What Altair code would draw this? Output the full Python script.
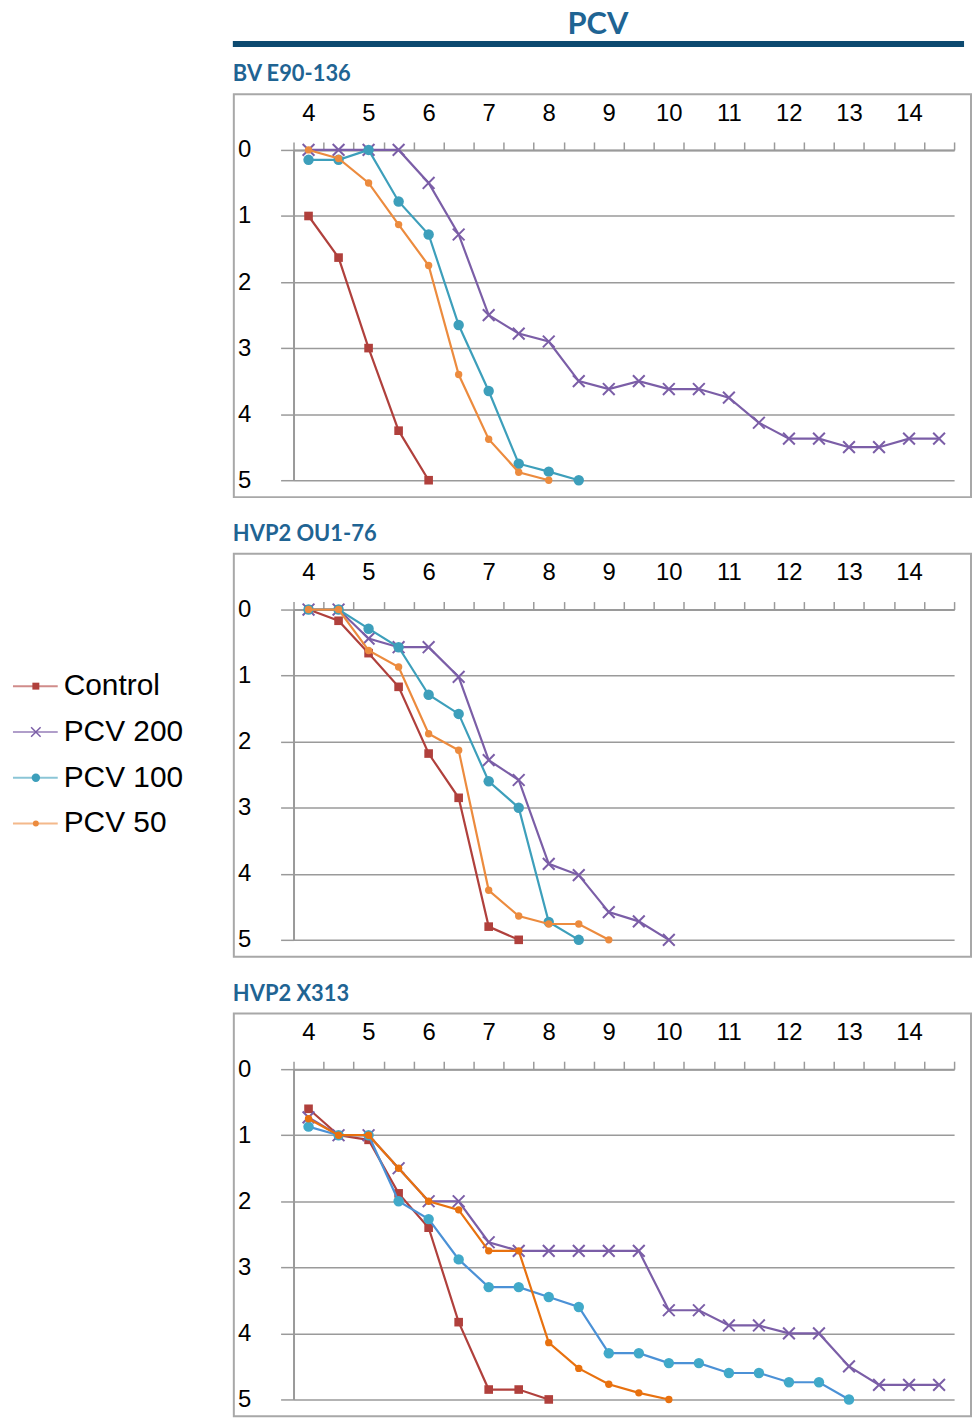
import altair as alt
import pandas as pd

# ---------------- data ----------------
DAYS = [4, 4.5, 5, 5.5, 6, 6.5, 7, 7.5, 8, 8.5, 9, 9.5, 10, 10.5, 11, 11.5,
        12, 12.5, 13, 13.5, 14, 14.5]
X_TICKS = [3.75, 4.25, 4.75, 5.25, 5.75, 6.25, 6.75, 7.25, 7.75, 8.25, 8.75,
           9.25, 9.75, 10.25, 10.75, 11.25, 11.75, 12.25, 12.75, 13.25, 13.75,
           14.25, 14.75]
Y_TICKS = [0, 1, 2, 3, 4, 5]
SERIES = ["Control", "PCV 200", "PCV 100", "PCV 50"]
PANEL_TITLES = ["BV E90-136", "HVP2 OU1-76", "HVP2 X313"]

control_1 = [1.0, 1.63, 3.0, 4.25, 5.0]
pcv200_1 = [0, 0, 0, 0, 0.5, 1.28, 2.5, 2.78, 2.9, 3.5, 3.62, 3.5, 3.62, 3.62,
            3.75, 4.13, 4.37, 4.37, 4.5, 4.5, 4.37, 4.37]
pcv100_1 = [0.15, 0.15, 0, 0.78, 1.28, 2.65, 3.65, 4.75, 4.87, 5.0]
pcv50_1 = [0, 0.13, 0.5, 1.13, 1.75, 3.4, 4.38, 4.88, 5.0]

control_2 = [0, 0.17, 0.66, 1.17, 2.18, 2.85, 4.8, 5.0]
pcv200_2 = [0, 0, 0.44, 0.57, 0.57, 1.02, 2.28, 2.58, 3.85, 4.02, 4.58, 4.72, 5.0]
pcv100_2 = [0, 0, 0.29, 0.57, 1.29, 1.58, 2.6, 3.0, 4.73, 5.0]
pcv50_2 = [0, 0, 0.62, 0.87, 1.88, 2.13, 4.25, 4.64, 4.76, 4.76, 5.0]

control_3 = [0.6, 1.0, 1.07, 1.88, 2.4, 3.83, 4.85, 4.85, 5.0]
pcv200_3 = [0.73, 1.0, 1.0, 1.5, 2.0, 2.0, 2.62, 2.75, 2.75, 2.75, 2.75, 2.75,
            3.65, 3.65, 3.88, 3.88, 4.0, 4.0, 4.5, 4.78, 4.78, 4.78]
pcv100_3 = [0.87, 1.0, 1.0, 2.0, 2.27, 2.88, 3.3, 3.3, 3.45, 3.6, 4.3, 4.3,
            4.45, 4.45, 4.6, 4.6, 4.74, 4.74, 5.0]
pcv50_3 = [0.75, 1.0, 1.0, 1.5, 2.0, 2.13, 2.75, 2.75, 4.14, 4.53, 4.77, 4.9, 5.0]

PANELS = [
    [control_1, pcv200_1, pcv100_1, pcv50_1],
    [control_2, pcv200_2, pcv100_2, pcv50_2],
    [control_3, pcv200_3, pcv100_3, pcv50_3],
]

# ---------------- styles ----------------
W, H = 664, 332
GRAY = "#9a9a9a"
FRAME = "#a8a8a8"
TITLE_BLUE = "#1f6493"
NAVY = "#0d4a70"
XPATH = "M-1,-1L1,1M-1,1L1,-1"

LINE_COLORS = [
    ["#b0403c", "#7b5ea7", "#3d9fbb", "#ec8b3e"],
    ["#b0403c", "#7b5ea7", "#3d9fbb", "#ec8b3e"],
    ["#b0403c", "#7b5ea7", "#4b91d6", "#e8710f"],
]
MARK_COLORS = [
    ["#b0403c", "#7b5ea7", "#3d9fbb", "#ec8b3e"],
    ["#b0403c", "#7b5ea7", "#3d9fbb", "#ec8b3e"],
    ["#b0403c", "#7b5ea7", "#41a9c9", "#e8710f"],
]
SHAPES = ["square", XPATH, "circle", "circle"]
SIZES = [75, 140, 110, 55]
FILLED = [True, False, True, True]

x_enc = alt.X(
    "day:Q",
    scale=alt.Scale(domain=[X_TICKS[0], X_TICKS[-1]], nice=False, zero=False),
    axis=alt.Axis(
        orient="top", values=X_TICKS, title=None,
        labelExpr="(datum.value < 14.5 && (datum.value * 4) % 4 == 3) ? toString(datum.value + 0.25) : ''",
        labelOffset=15, labelFlush=False, labelOverlap=False,
        labelFont="Liberation Sans", labelFontSize=24, labelColor="#000000",
        labelPadding=17, tickSize=8, tickColor=GRAY, tickWidth=1.5,
        domainColor=GRAY, domainWidth=2, grid=False,
    ),
)
y_enc = alt.Y(
    "score:Q",
    scale=alt.Scale(domain=[0, 5], reverse=True, nice=False, zero=False),
    axis=alt.Axis(
        values=Y_TICKS, title=None, grid=True, gridColor=GRAY, gridWidth=1.5,
        labelFont="Liberation Sans", labelFontSize=24, labelColor="#000000",
        labelPadding=30, tickSize=13, tickColor=GRAY, tickWidth=1.5,
        domainColor=GRAY, domainWidth=2,
    ),
)

one_row = alt.Data(values=[{"k": 1}])


def panel(idx):
    layers = [
        alt.Chart(one_row).mark_rect(fillOpacity=0, stroke=FRAME, strokeWidth=2).encode(
            x=alt.value(-60), x2=alt.value(W + 17), y=alt.value(-56), y2=alt.value(H + 17)
        )
    ]
    for s, vals in enumerate(PANELS[idx]):
        df = pd.DataFrame({"day": DAYS[: len(vals)], "score": vals})
        base = alt.Chart(df)
        layers.append(
            base.mark_line(color=LINE_COLORS[idx][s], strokeWidth=2.2).encode(x=x_enc, y=y_enc)
        )
        layers.append(
            base.mark_point(
                shape=SHAPES[s], filled=FILLED[s], size=SIZES[s],
                color=MARK_COLORS[idx][s], opacity=1, strokeWidth=2,
            ).encode(x=x_enc, y=y_enc)
        )
    return alt.layer(*layers).properties(
        width=W, height=H,
        title=alt.TitleParams(
            PANEL_TITLES[idx], anchor="start", frame="bounds", font="Lato",
            fontSize=22, fontWeight="bold", color=TITLE_BLUE, offset=7,
        ),
    )


header = alt.layer(
    alt.Chart(one_row).mark_text(
        text="PCV", font="Lato", fontSize=31, fontWeight="bold", color=TITLE_BLUE,
        align="center", baseline="middle",
    ).encode(x=alt.value(306), y=alt.value(11)),
    alt.Chart(one_row).mark_rule(color=NAVY, strokeWidth=6).encode(
        x=alt.value(-61), x2=alt.value(W + 10), y=alt.value(30.5)
    ),
).properties(width=W, height=38)

right = alt.vconcat(
    header,
    alt.vconcat(panel(0), panel(1), panel(2), spacing=25),
    spacing=12,
)

# ---------------- legend ----------------
leg_df = pd.DataFrame({"series": SERIES})
y_leg = alt.Y(
    "series:N",
    scale=alt.Scale(type="point", domain=SERIES, range=[676, 814], padding=0),
    axis=None,
)
leg_layers = []
for s, name in enumerate(SERIES):
    b = alt.Chart(leg_df).transform_filter(alt.datum.series == name)
    leg_layers.append(
        b.mark_rule(color=MARK_COLORS[0][s], strokeWidth=2, opacity=0.6).encode(
            y=y_leg, x=alt.value(0), x2=alt.value(45)
        )
    )
    leg_layers.append(
        b.mark_point(
            shape=SHAPES[s], filled=FILLED[s], size=SIZES[s] * 0.65,
            color=MARK_COLORS[0][s], opacity=1, strokeWidth=1.5,
        ).encode(y=y_leg, x=alt.value(23))
    )
leg_layers.append(
    alt.Chart(leg_df).mark_text(
        align="left", baseline="middle", font="Liberation Sans", fontSize=30,
        color="#000000",
    ).encode(y=y_leg, x=alt.value(51), text="series:N")
)
legend = alt.layer(*leg_layers).properties(width=218, height=830)

chart = (
    alt.hconcat(legend, right, spacing=0)
    .properties(padding={"left": 4, "top": -3, "right": 0, "bottom": 0})
    .configure(font="Liberation Sans")
    .configure_view(stroke="transparent", strokeWidth=0)
)

chart.save("out.html", embed_options={"renderer": "svg", "actions": False})
